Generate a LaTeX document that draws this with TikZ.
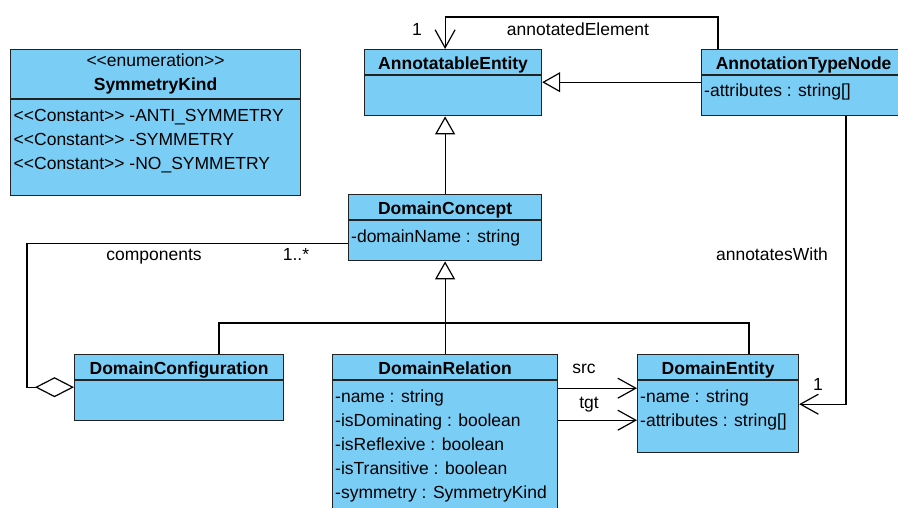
\documentclass[tikz,border=0pt]{standalone}
\usepackage{fontspec}
\setmainfont{Liberation Sans}
\usetikzlibrary{arrows.meta}
\definecolor{classblue}{RGB}{122, 206, 245}
\definecolor{classline}{RGB}{34, 34, 34}
\newcommand{\umlfont}{\fontsize{17.5pt}{24pt}\selectfont}
\newcommand{\stereo}[1]{<\kern0pt<#1>\kern0pt>}

\tikzset{
  classbody/.style={draw=classline, fill=classblue, line width=1.2pt, anchor=north west, inner sep=0pt},
  classhead/.style={classbody, font=\umlfont\bfseries, text height=15.5pt, text depth=1.5pt, minimum height=25pt},
  classattr/.style={anchor=base west, inner sep=0pt, font=\umlfont},
  lbl/.style={anchor=base, inner sep=0pt, font=\umlfont},
  gen/.style={line width=1.2pt, -{Triangle[open, fill=white, length=18pt, width=20pt]}},
  assoc/.style={line width=1.2pt, -{Straight Barb[length=18pt, width=20pt]}},
  agg/.style={line width=1.2pt, {Diamond[open, fill=white, length=39pt, width=20pt]}-}
}

\begin{document}
\begin{tikzpicture}[x=1pt, y=-1pt]
  \useasboundingbox (0,0) rectangle (898,508);

  \node[classbody, minimum width=290pt, minimum height=49pt, align=center, font=\umlfont] (skh) at (10,49)
       {\stereo{enumeration}\\\textbf{SymmetryKind}};
  \node[classbody, minimum width=290pt, minimum height=96pt] (sk)   at (skh.south west) {};
  \foreach \txt [count=\i] in {-ANTI\_SYMMETRY, -SYMMETRY, -NO\_SYMMETRY}
    \node[classattr] (ska-\i) at ([shift={(3.5,{22+24*(\i-1)})}]sk.north west) {\stereo{Constant} \txt};

  \node[classhead, minimum width=177pt]                       (aeh)  at (364,49)          {AnnotatableEntity};
  \node[classbody, minimum width=177pt, minimum height=40pt]  (ae)   at (aeh.south west)  {};

  \node[classhead, minimum width=204pt]                       (atnh) at (701,49)          {AnnotationTypeNode};
  \node[classbody, minimum width=204pt, minimum height=40pt]  (atn)  at (atnh.south west) {};
  \node[classattr]                                            (atna) at ([shift={(3,21)}]atn.north west) {-attributes : string[]};

  \node[classhead, minimum width=193pt]                       (dch)  at (348,194)         {DomainConcept};
  \node[classbody, minimum width=193pt, minimum height=40pt]  (dc)   at (dch.south west)  {};
  \node[classattr]                                            (dca)  at ([shift={(3,22)}]dc.north west) {-domainName : string};

  \node[classhead, minimum width=209pt]                       (dcfh) at (74,354)          {DomainConfiguration};
  \node[classbody, minimum width=209pt, minimum height=40pt]  (dcf)  at (dcfh.south west) {};

  \node[classhead, minimum width=225pt]                       (drh)  at (332,354)         {DomainRelation};
  \node[classbody, minimum width=225pt, minimum height=133pt] (dr)   at (drh.south west)  {};
  \foreach \txt [count=\i] in {-name : string, -isDominating : boolean, -isReflexive : boolean,
                               -isTransitive : boolean, -symmetry : SymmetryKind}
    \node[classattr] (dra-\i) at ([shift={(3,{22+24*(\i-1)})}]dr.north west) {\txt};

  \node[classhead, minimum width=161pt]                       (deh)  at (637,354)         {DomainEntity};
  \node[classbody, minimum width=161pt, minimum height=72pt]  (de)   at (deh.south west)  {};
  \foreach \txt [count=\i] in {-name : string, -attributes : string[]}
    \node[classattr] (dea-\i) at ([shift={(3,{22+24*(\i-1)})}]de.north west) {\txt};

  \coordinate (atnout) at ([yshift=-7pt]atn.north west);
  \coordinate (split)  at ([yshift=31pt]drh.north);
  \coordinate (src)    at ([yshift=-8pt]dr.north east);
  \coordinate (tgt)    at ([yshift=-40pt]dr.north east);

  \draw[gen]   (atnout) -- (atnout -| ae.east);
  \draw[gen]   (dch.north) -- (dch.north |- ae.south);
  \draw[gen]   (drh.north) -- (drh.north |- dc.south);
  \draw[line width=1.2pt] ([xshift=145pt]dcfh.north west) |- (split) -| ([xshift=112pt]deh.north west);
  \draw[assoc] ([xshift=17pt]atnh.north west) -- ++(0,-32) -| (aeh.north -| dch.north);
  \draw[assoc] ([xshift=145pt]atn.south west) |- ([yshift=-24pt]de.north east);
  \draw[agg]   ([yshift=-7pt]dcf.north west) -- ++(-47,0) |- ([yshift=-23pt]dc.north west);
  \draw[assoc] (src) -- (src -| de.west);
  \draw[assoc] (tgt) -- (tgt -| de.west);

  \node[lbl] (aemult)  at (417,36)  {1};
  \node[lbl] (aerole)  at (578,36)  {annotatedElement};
  \node[lbl] (derole)  at (772,261) {annotatesWith};
  \node[lbl] (demult)  at (818,390) {1};
  \node[lbl] (cmprole) at (154,261) {components};
  \node[lbl] (cmpmult) at (296,261) {1..*};
  \node[lbl] (srcrole) at (584,373) {src};
  \node[lbl] (tgtrole) at (589,408) {tgt};
\end{tikzpicture}
\end{document}
